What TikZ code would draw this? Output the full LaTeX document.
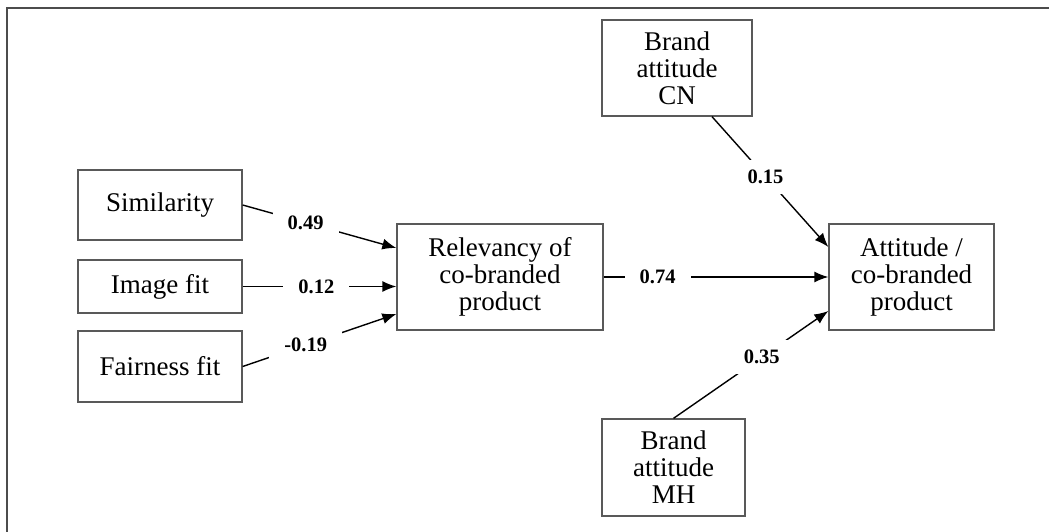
\documentclass[tikz,border=0pt]{standalone}
\usepackage{fontspec}
\setmainfont{Liberation Serif}
\usetikzlibrary{arrows.meta}

\begin{document}
\begin{tikzpicture}[x=1pt, y=-1pt,
		box/.style={draw=black!65, line width=1.3pt, align=center, inner sep=0pt,
			font=\fontsize{27}{27}\selectfont},
		arr/.style={line width=1.4pt, -{Latex[length=14pt,width=11pt]}},
		wt/.style={fill=white, inner xsep=15pt, inner ysep=10pt,
			font=\fontsize{20.5}{21}\selectfont\bfseries}]
	\useasboundingbox (0,0) rectangle (1049,532);
	\draw[black!70, line width=1.8pt] (7,532) -- (7,8) -- (1049,8);
	% predictors
	\node[box, minimum width=164pt, minimum height=70pt] (sim) at (160,205) {Similarity};
	\node[box, minimum width=164pt, minimum height=53pt] (img) at (160,286.5) {Image fit};
	\node[box, minimum width=164pt, minimum height=71pt] (fair) at (160,366.5) {Fairness fit};
	\node[box, minimum width=206pt, minimum height=106pt] (rel) at (500,277) {Relevancy of\\co-branded\\product};
	\node[box, minimum width=150pt, minimum height=96pt] (cn) at (677,68) {Brand\\attitude\\CN};
	\node[box, minimum width=165pt, minimum height=106pt] (att) at (911.5,277) {Attitude /\\co-branded\\product};
	\node[box, minimum width=143pt, minimum height=97pt] (mh) at (673.5,467.5) {Brand\\attitude\\MH};
	% paths
	\draw[arr] (sim.east) -- node[wt, pos=0.41] {0.49} ([yshift=29pt]rel.west);
	\draw[arr] (img.east) -- node[wt, pos=0.48] {0.12} (img.east -| rel.west);
	\draw[arr] (fair.east) -- node[wt, pos=0.41] {-0.19} ([yshift=-37pt]rel.west);
	\draw[arr] (rel.east) -- node[wt, pos=0.24] {0.74} (att.west);
	\draw[arr] ([xshift=35pt]cn.south) -- node[wt, pos=0.46] {0.15} ([yshift=30pt]att.west);
	\draw[arr] (mh.north) -- node[wt, pos=0.57] {0.35} ([yshift=-34pt]att.west);
\end{tikzpicture}
\end{document}
